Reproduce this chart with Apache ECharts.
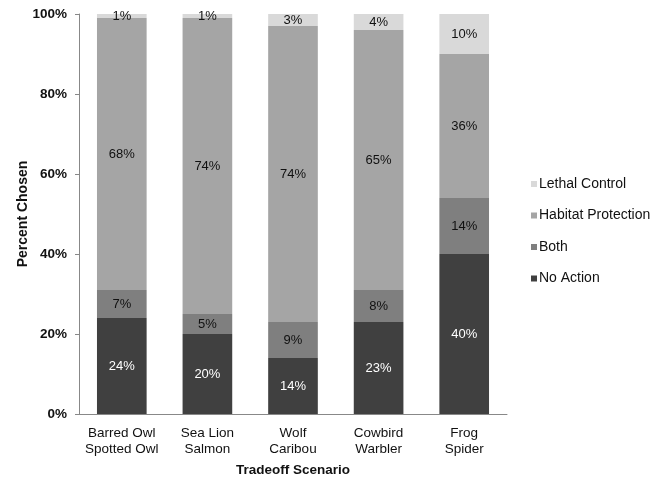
<!DOCTYPE html>
<html>
<head>
<meta charset="utf-8">
<script src="https://cdn.jsdelivr.net/npm/echarts@6/dist/echarts.min.js"></script>
<style>
  html, body { margin: 0; padding: 0; background: #fff; }
  #chart { width: 664px; height: 479px; }
</style>
</head>
<body>
<div id="chart"></div>
<script>
// Tradeoff scenarios (x-axis categories)
const scenarios = [
  'Barred Owl\nSpotted Owl',
  'Sea Lion\nSalmon',
  'Wolf\nCaribou',
  'Cowbird\nWarbler',
  'Frog\nSpider'
];

// Percent of respondents choosing each option, per scenario
const noAction = [24, 20, 14, 23, 40];
const both = [7, 5, 9, 8, 14];
const habitatProtection = [68, 74, 74, 65, 36];
const lethalControl = [1, 1, 3, 4, 10];

const yTicks = [0, 20, 40, 60, 80, 100];

const FONT = '"Liberation Sans", Arial, sans-serif';

function stackSeries(name, data, color, labelColor) {
  return {
    name: name,
    type: 'bar',
    stack: 'total',
    data: data,
    barWidth: '58%',
    itemStyle: { color: color },
    label: {
      show: true,
      position: 'inside',
      formatter: p => p.value + '%',
      color: labelColor,
      fontFamily: FONT,
      fontSize: 13
    }
  };
}

const chart = echarts.init(document.getElementById('chart'));
chart.setOption({
  animation: false,
  backgroundColor: '#fff',
  grid: { left: 79, right: 157, top: 14, bottom: 65, outerBoundsMode: 'none', containLabel: false },
  legend: {
    orient: 'vertical',
    left: 526,
    top: 172,
    itemWidth: 6,
    itemHeight: 6,
    itemGap: 17.5,
    icon: 'rect',
    data: ['Lethal Control', 'Habitat Protection', 'Both', 'No Action'],
    textStyle: { fontFamily: FONT, fontSize: 14, color: '#111', padding: [0, 0, 0, -3] }
  },
  xAxis: {
    type: 'category',
    data: scenarios,
    name: 'Tradeoff Scenario',
    nameLocation: 'middle',
    nameGap: 49,
    nameMoveOverlap: false,
    nameTextStyle: { fontFamily: FONT, fontSize: 13.5, fontWeight: 'bold', color: '#111' },
    axisLine: { lineStyle: { color: '#888', width: 1 } },
    axisTick: { show: false },
    axisLabel: { interval: 0, fontFamily: FONT, fontSize: 13.5, color: '#111', lineHeight: 16, margin: 11 }
  },
  yAxis: {
    type: 'value',
    min: 0,
    max: 100,
    interval: 20,
    name: 'Percent Chosen',
    nameLocation: 'middle',
    nameGap: 49,
    nameMoveOverlap: false,
    nameTextStyle: { fontFamily: FONT, fontSize: 14, fontWeight: 'bold', color: '#111' },
    splitLine: { show: false },
    axisLine: { show: true, lineStyle: { color: '#888', width: 1 } },
    axisTick: { show: true, length: 4, lineStyle: { color: '#888' } },
    axisLabel: {
      fontFamily: FONT,
      fontSize: 13.5,
      fontWeight: 'bold',
      color: '#111',
      margin: 12,
      formatter: v => (yTicks.indexOf(v) >= 0 ? v + '%' : '')
    }
  },
  series: [
    stackSeries('No Action', noAction, '#404040', '#ffffff'),
    stackSeries('Both', both, '#7f7f7f', '#111111'),
    stackSeries('Habitat Protection', habitatProtection, '#a5a5a5', '#111111'),
    stackSeries('Lethal Control', lethalControl, '#d9d9d9', '#111111')
  ]
});
</script>
</body>
</html>
